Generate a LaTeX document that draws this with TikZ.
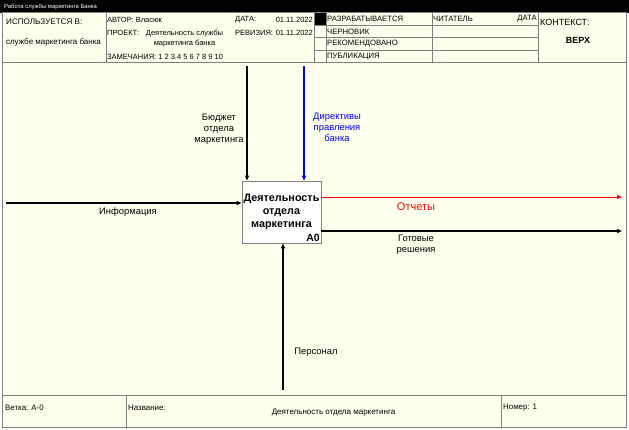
\documentclass[tikz,border=0pt]{standalone}
\usepackage{fontspec}
\setmainfont{Liberation Sans}
\usetikzlibrary{arrows.meta}
\definecolor{paper}{RGB}{255,255,238}
\definecolor{frame}{RGB}{128,128,128}
\tikzset{
  hdr/.style={font=\fontsize{7.5}{8}\selectfont,inner sep=0pt},
  small/.style={font=\fontsize{7.7}{8}\selectfont,inner sep=0pt},
  lbl/.style={font=\fontsize{9.4}{11}\selectfont,align=center,inner sep=0pt},
  arr/.style={line width=1.2pt,-{Triangle[length=5pt,width=4pt]}},
  grid/.style={draw=frame,line width=0.6pt}
}
\begin{document}
\begin{tikzpicture}[x=1pt,y=-1pt]
\useasboundingbox (0,0) rectangle (629,429);

% title bar and sheet
\fill[black] (0,0) rectangle (629,12.5);
\node[anchor=west,text=white,font=\fontsize{5.9}{6}\selectfont,inner sep=0pt] (title) at (4,6.5) {Работа службы маркетинга Банка};
\fill[paper] (2,12.5) rectangle (626.5,427);
\draw[grid,line width=1pt] (2,12.5) rectangle (626.5,427);

% header
\draw[grid] (2,62) -- (626.5,62);
\draw[grid] (106,12.5) -- (106,62);
\draw[grid] (314,12.5) -- (314,62);
\draw[grid] (326,12.5) -- (326,62);
\draw[grid] (432,12.5) -- (432,62);
\draw[grid] (538,12.5) -- (538,62);
\foreach \y in {25,37.5,50}
  \draw[grid] (314,\y) -- (538,\y);
\fill[black] (314.5,13) rectangle (325.5,24.5);

\node[hdr,font=\fontsize{8.1}{9}\selectfont,anchor=west] (used) at (6,22) {ИСПОЛЬЗУЕТСЯ В:};
\node[hdr,font=\fontsize{8}{9}\selectfont] (usedin) at (53.5,42) {службе маркетинга банка};
\node[hdr,anchor=west] (author) at (107,20) {АВТОР: Власюк};
\node[hdr,anchor=west] (date) at (235,20) {ДАТА:};
\node[hdr,anchor=east] (dateval) at (313,20) {01.11.2022};
\node[hdr,anchor=west] (project) at (107,33) {ПРОЕКТ:};
\node[hdr,align=center] (projname) at (184.5,38.5) {Деятельность службы\\[1.5pt]маркетинга банка};
\node[hdr,anchor=west] (rev) at (235,33) {РЕВИЗИЯ:};
\node[hdr,anchor=east] (revval) at (313,33) {01.11.2022};
\node[hdr,anchor=west] (notes) at (107,57) {ЗАМЕЧАНИЯ: 1 2 3 4 5 6 7 8 9 10};

\node[small,anchor=west] (work) at (327,19) {РАЗРАБАТЫВАЕТСЯ};
\node[small,anchor=west] (draft) at (327,31.5) {ЧЕРНОВИК};
\node[small,anchor=west] (recom) at (327,44) {РЕКОМЕНДОВАНО};
\node[small,anchor=west] (publ) at (327,56.5) {ПУБЛИКАЦИЯ};
\node[small,anchor=west] (reader) at (433,19) {ЧИТАТЕЛЬ};
\node[small,anchor=east] (rdate) at (537,19) {ДАТА};
\node[font=\fontsize{9}{10}\selectfont,inner sep=0pt,anchor=west] (ctx) at (540,22) {КОНТЕКСТ:};
\node[font=\bfseries\fontsize{9}{10}\selectfont,inner sep=0pt] (top) at (578,40) {ВЕРХ};

% footer
\draw[grid] (2,395) -- (626.5,395);
\draw[grid] (126,395) -- (126,427);
\draw[grid] (501,395) -- (501,427);
\node[small,font=\fontsize{7.9}{8}\selectfont,anchor=west] (node) at (5,408) {Ветка: А-0};
\node[small,font=\fontsize{7.9}{8}\selectfont,anchor=west] (namelbl) at (128,408) {Название:};
\node[small,font=\fontsize{8}{9}\selectfont] (name) at (333.5,413) {Деятельность отдела маркетинга};
\node[small,font=\fontsize{7.9}{8}\selectfont,anchor=west] (num) at (503,408) {Номер: 1};

% function box
\node[draw=frame,fill=white,line width=0.8pt,minimum width=79pt,minimum height=62pt,inner sep=0pt,
  align=center,font=\bfseries\fontsize{10.8}{13}\selectfont] (box) at (281.5,212) {Деятельность\\отдела\\маркетинга};
\node[font=\bfseries\fontsize{10.5}{11}\selectfont,anchor=south east,inner sep=1.5pt] (num0) at (box.south east) {A0};

% arrows
\coordinate (inS) at (6,203);
\coordinate (ctlA) at (247,66);
\coordinate (ctlB) at (304,66);
\coordinate (mecS) at (283,390);
\coordinate (outA) at (622,197);
\coordinate (outB) at (622,231);
\draw[arr] (inS) -- (inS -| box.west);
\draw[arr] (ctlA) -- (ctlA |- box.north);
\draw[arr,blue] (ctlB) -- (ctlB |- box.north);
\draw[arr] (mecS) -- (mecS |- box.south);
\draw[arr,red,line width=0.9pt] (outA -| box.east) -- (outA);
\draw[arr] (outB -| box.east) -- (outB);

\node[lbl] (inL) at (128,212) {Информация};
\node[lbl] (ctlAL) at (219,129) {Бюджет\\отдела\\маркетинга};
\node[lbl,text=blue] (ctlBL) at (337,127) {Директивы\\правления\\банка};
\node[lbl,text=red,font=\fontsize{11}{12}\selectfont] (outAL) at (416,207) {Отчеты};
\node[lbl] (outBL) at (416,244.5) {Готовые\\решения};
\node[lbl] (mecL) at (316,352) {Персонал};
\end{tikzpicture}
\end{document}
